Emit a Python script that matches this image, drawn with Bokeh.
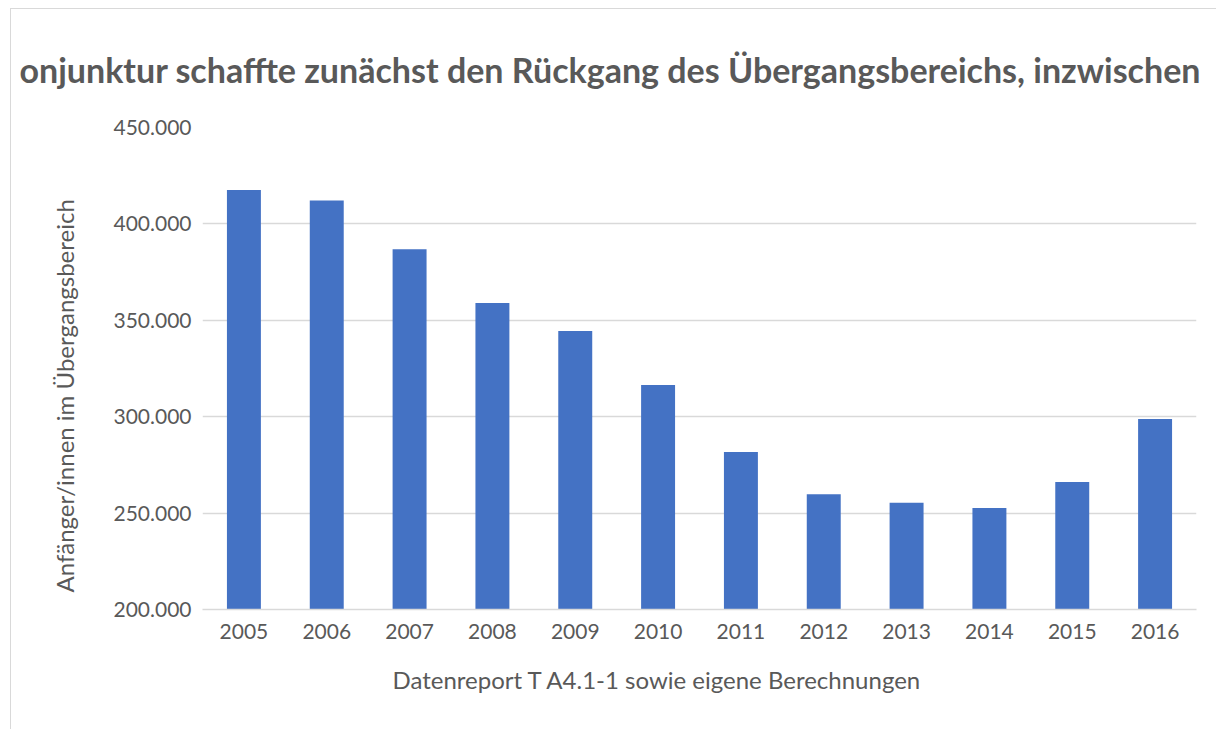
from bokeh.plotting import figure
from bokeh.models import Title, CustomJSTickFormatter, FixedTicker
from bokeh.embed import file_html
from bokeh.resources import INLINE

years = ["2005", "2006", "2007", "2008", "2009", "2010",
         "2011", "2012", "2013", "2014", "2015", "2016"]
values = [417647, 412083, 386864, 358969, 344515, 316494,
          281662, 259727, 255401, 252670, 266190, 298781]
y_ticks = [200000, 250000, 300000, 350000, 400000, 450000]

title_text = "onjunktur schaffte zunächst den Rückgang des Übergangsbereichs, inzwischen"
y_label = "Anfänger/innen im Übergangsbereich"
x_label = "Datenreport T A4.1-1 sowie eigene Berechnungen"

GREY = "#595959"
FONT = "Lato"

p = figure(x_range=years, y_range=(200000, 450000),
           width=1206, height=721, output_backend="svg", toolbar_location=None,
           min_border_left=191, min_border_right=21, min_border_top=118, min_border_bottom=121)
p.styles = {"border-left": "1px solid #d9d9d9", "border-top": "1px solid #d9d9d9",
            "margin-left": "10px", "margin-top": "8px"}

p.vbar(x=years, top=values, bottom=200000, width=0.41, color="#4472C4", line_color=None)

p.title = Title(text=title_text, align="left", offset=-183, standoff=75,
                text_font=FONT, text_font_size="34px", text_font_style="bold",
                text_color=GREY)

p.outline_line_color = None
p.xgrid.grid_line_color = None
p.ygrid.grid_line_color = "#d9d9d9"
p.ygrid.grid_line_width = 1.5

p.yaxis.ticker = FixedTicker(ticks=y_ticks)
p.yaxis.formatter = CustomJSTickFormatter(code="return tick.toLocaleString('de-DE');")
p.yaxis.axis_line_color = None
p.yaxis.major_tick_line_color = None
p.yaxis.minor_tick_line_color = None
p.yaxis.major_label_text_font = FONT
p.yaxis.major_label_text_font_size = "21px"
p.yaxis.major_label_text_color = GREY
p.yaxis.major_label_standoff = 5

p.xaxis.axis_line_color = "#d9d9d9"
p.xaxis.axis_line_width = 1.5
p.xaxis.major_tick_line_color = None
p.xaxis.minor_tick_line_color = None
p.xaxis.major_label_text_font = FONT
p.xaxis.major_label_text_font_size = "21px"
p.xaxis.major_label_text_color = GREY
p.xaxis.major_label_standoff = 8

p.add_layout(Title(text=y_label, align="left", offset=17, standoff=64,
                   text_font=FONT, text_font_size="24px", text_font_style="normal",
                   text_color=GREY), "left")
p.add_layout(Title(text=x_label, align="left", offset=190, standoff=42,
                   text_font=FONT, text_font_size="24px", text_font_style="normal",
                   text_color=GREY), "below")

p.x_range.range_padding = 0

open("out.html", "w").write(file_html(p, INLINE))
